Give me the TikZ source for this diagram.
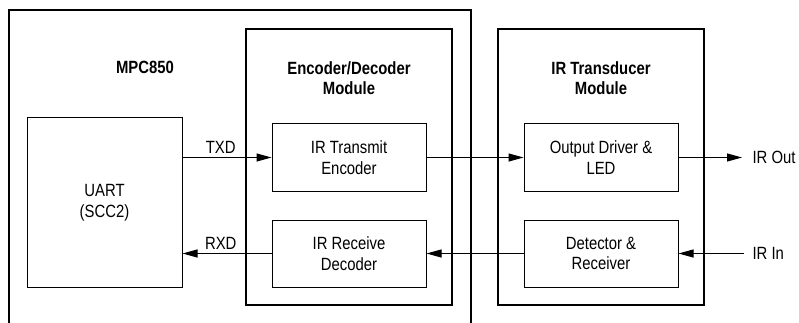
\documentclass[tikz,border=0pt]{standalone}
\usepackage{fontspec}
\setmainfont{Liberation Sans}[FakeStretch=0.84]
\usetikzlibrary{arrows.meta}

\begin{document}
\begin{tikzpicture}[x=1pt,y=-1pt,line width=1pt,
    font=\fontsize{17.7}{20.5}\selectfont,
    arr/.style={-{Triangle[length=15pt,width=8pt]}},
    block/.style={draw,minimum width=154pt,minimum height=67pt,align=center,inner sep=0pt},
    module/.style={draw,line width=1.2pt,minimum width=206pt,minimum height=276pt,inner sep=0pt},
    title/.style={font=\fontsize{17.7}{20.5}\selectfont\bfseries,align=center}]
    \useasboundingbox (0,0) rectangle (799,323);

    % outer MPC850 frame, open at the bottom
    \draw[line width=1.2pt] (9,323) -- (9,10) -- (471,10) -- (471,323);
    \node[title] (mpct) at (145,67) {MPC850};

    % modules
    \node[module] (encmod) at (349,167) {};
    \node[module] (irmod) at (601,167) {};
    \node[title] (enct) at (349,78) {Encoder/Decoder\\Module};
    \node[title] (irt) at (601,78) {IR Transducer\\Module};

    % blocks
    \node[block,minimum width=155pt,minimum height=169pt] (uart) at (104.5,202.5) {UART\\(SCC2)};
    \node[block] (enc) at (349,157.5) {IR Transmit\\Encoder};
    \node[block] (dec) at (349,253.5) {IR Receive\\Decoder};
    \node[block] (drv) at (601,157.5) {Output Driver \&\\LED};
    \node[block] (det) at (601,253.5) {Detector \&\\Receiver};

    % external signals
    \node[anchor=west,inner sep=0pt] (irout) at (752,157.5) {IR Out};
    \node[anchor=west,inner sep=0pt] (irin) at (752,253.5) {IR In};

    % connectors
    \draw[arr] (enc.west -| uart.east) -- node[above,pos=0.43] (txd) {TXD} (enc.west);
    \draw[arr] (dec.west) -- node[above,pos=0.57] (rxd) {RXD} (dec.west -| uart.east);
    \draw[arr] (enc) -- (drv);
    \draw[arr] (det) -- (dec);
    \draw[arr,shorten >=10pt] (drv) -- (irout);
    \draw[arr,shorten <=8pt] (irin) -- (det);
\end{tikzpicture}
\end{document}
